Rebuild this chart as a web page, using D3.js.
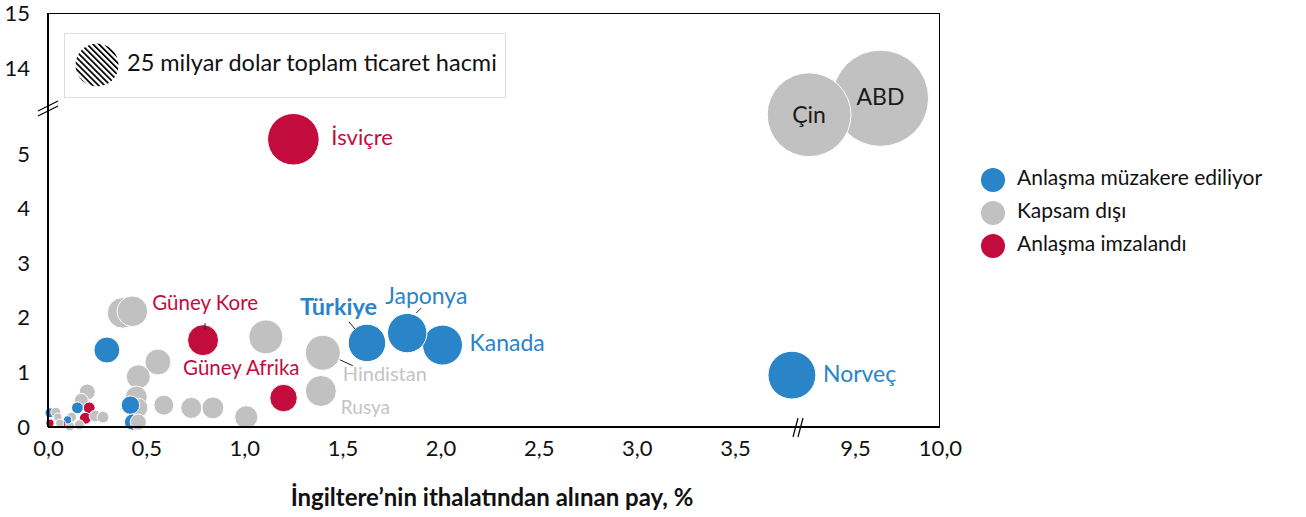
<!DOCTYPE html>
<html>
<head lang="tr">
    <meta charset="UTF-8">
    <script type="text/javascript" src="https://d3js.org/d3.v7.min.js"></script>
    <style>
        body { margin: 0; background: #fff; }
        svg text { font-family: "Lato", "Open Sans", sans-serif; }
    </style>
</head>
<body>
    <svg id="chart" width="1306" height="517"></svg>
    <script>

        // country data: share of UK imports (%), y value, total trade volume (bn $), status
        var names   = ["ABD", "Çin", "İsviçre", "Norveç", "Kanada", "Japonya", "Türkiye", "Hindistan", "Rusya", "Güney Afrika", "Güney Kore",
                       "", "", "", "", "", "", "", "", "", "", "", "", "", "", "",
                       "", "", "", "", "", "", "", "", "", "", "", "", "", "", "", "", ""];
        var xShare  = [9.65, 9.23, 1.25, 3.79, 2.01, 1.83, 1.625, 1.40, 1.39, 1.20, 0.79,
                       1.11, 0.38, 0.43, 0.30, 0.56, 0.46, 0.45, 0.42, 0.46, 0.43, 0.46, 0.59, 0.73, 0.84, 1.01,
                       0.20, 0.17, 0.15, 0.21, 0.19, 0.24, 0.28, 0.16, 0.11, 0.12, 0.10, 0.07, 0.01, 0.04, 0.05, 0.01, 0.06];
        var yValue  = [13.45, 13.15, 5.27, 0.95, 1.50, 1.72, 1.54, 1.36, 0.66, 0.53, 1.59,
                       1.65, 2.09, 2.12, 1.41, 1.19, 0.92, 0.55, 0.40, 0.35, 0.09, 0.09, 0.40, 0.35, 0.35, 0.18,
                       0.64, 0.49, 0.35, 0.35, 0.16, 0.20, 0.18, 0.04, 0.02, 0.18, 0.13, 0.05, 0.26, 0.27, 0.18, 0.07, 0.07];
        var volume  = [125, 95, 36, 31, 21.6, 21, 19, 16.6, 13, 10.2, 13,
                       15.6, 12.7, 12.7, 9.1, 9.1, 7.8, 6.5, 4.6, 5, 3.5, 3.5, 5.4, 6, 6.5, 7.2,
                       3.5, 2.6, 1.9, 1.9, 1.9, 1.9, 1.9, 1.35, 1.35, 1.35, 0.9, 0.9, 1.35, 1.35, 0.9, 0.9, 0.9];
        var statusCodes = ["k", "k", "i", "m", "m", "m", "m", "k", "k", "i", "i",
                       "k", "k", "k", "m", "k", "k", "k", "m", "k", "m", "k", "k", "k", "k", "k",
                       "k", "k", "m", "i", "i", "k", "k", "k", "k", "k", "m", "i", "m", "k", "k", "i", "k"];

        var statusKeys   = ["m", "k", "i"];
        var statusLabels = ["Anlaşma müzakere ediliyor", "Kapsam dışı", "Anlaşma imzalandı"];
        var statusColors = {m: "#2a84c8", k: "#c1c1c1", i: "#c20c3d"};

        var xTicksLow  = [0, 0.5, 1, 1.5, 2, 2.5, 3, 3.5];
        var xTicksHigh = [9.5, 10];
        var yTicksLow  = [0, 1, 2, 3, 4, 5];
        var yTicksHigh = [14, 15];
        var legendVolume = 25;

        var plotLeft = 48, plotRight = 940, plotTop = 13, plotBottom = 427;
        var xBreak = 800, yBreak = 105;

        // broken scales
        var xLow  = d3.scaleLinear().domain([0, 3.5]).range([plotLeft, 735]);
        var xHigh = d3.scaleLinear().domain([9.5, 10]).range([855, plotRight]);
        var yLow  = d3.scaleLinear().domain([0, 5]).range([plotBottom, 154]);
        var yHigh = d3.scaleLinear().domain([14, 15]).range([68, plotTop]);
        function xPos(v){ return v > 6 ? xHigh(v) : xLow(v); }
        function yPos(v){ return v > 9 ? yHigh(v) : yLow(v); }
        var rScale = d3.scaleSqrt().domain([0, 25]).range([0, 21.5]);

        var tr = d3.formatLocale({decimal: ",", thousands: ".", grouping: [3], currency: ["", ""]});
        var fmt1 = tr.format(".1f");
        var fmt0 = tr.format("d");

        var svg = d3.select("#chart");

        // frame
        svg.append("line").attr("x1", plotLeft).attr("x2", plotRight).attr("y1", plotTop + 0.5).attr("y2", plotTop + 0.5)
            .attr("stroke", "#000").attr("stroke-width", 1);
        svg.append("line").attr("x1", plotRight - 0.5).attr("x2", plotRight - 0.5).attr("y1", plotTop).attr("y2", plotBottom)
            .attr("stroke", "#000").attr("stroke-width", 1);

        // axis labels
        svg.append("g").attr("transform", "translate(0," + plotBottom + ")")
            .call(d3.axisBottom(xLow).tickValues(xTicksLow).tickFormat(fmt1).tickSize(0).tickPadding(13));
        svg.append("g").attr("transform", "translate(0," + plotBottom + ")")
            .call(d3.axisBottom(xHigh).tickValues(xTicksHigh).tickFormat(fmt1).tickSize(0).tickPadding(13));
        svg.append("g").attr("transform", "translate(" + plotLeft + ",0)")
            .call(d3.axisLeft(yLow).tickValues(yTicksLow).tickFormat(fmt0).tickSize(0).tickPadding(18));
        svg.append("g").attr("transform", "translate(" + plotLeft + ",0)")
            .call(d3.axisLeft(yHigh).tickValues(yTicksHigh).tickFormat(fmt0).tickSize(0).tickPadding(18));
        svg.selectAll(".domain").remove();
        svg.selectAll(".tick text").attr("font-size", 22).attr("fill", "#111")
            .style("font-family", "Lato, 'Open Sans', sans-serif");

        // bubbles, biggest first
        var rows = names.map(function(n, i){
            return {name: n, x: xShare[i], y: yValue[i], v: volume[i], s: statusCodes[i]};
        });
        rows.sort(function(a, b){ return b.v - a.v; });

        svg.append("g").selectAll("circle")
            .data(rows)
            .enter()
            .append("circle")
                .attr("cx", function(d){ return xPos(d.x); })
                .attr("cy", function(d){ return yPos(d.y); })
                .attr("r", function(d){ return rScale(d.v); })
                .attr("fill", function(d){ return statusColors[d.s]; })
                .attr("stroke", "#fff")
                .attr("stroke-width", 1);

        // axes lines with breaks
        svg.append("line").attr("x1", plotLeft).attr("x2", plotLeft).attr("y1", plotTop).attr("y2", plotBottom)
            .attr("stroke", "#000").attr("stroke-width", 2);
        svg.append("line").attr("x1", plotLeft).attr("x2", plotRight).attr("y1", plotBottom).attr("y2", plotBottom)
            .attr("stroke", "#000").attr("stroke-width", 2);
        [0, 5].forEach(function(o){
            svg.append("line").attr("x1", 38).attr("y1", yBreak + 6 + o).attr("x2", 58).attr("y2", yBreak + 1 + o - 5)
                .attr("stroke", "#000").attr("stroke-width", 1.2);
            svg.append("line").attr("x1", xBreak - 7 + o).attr("y1", plotBottom + 10).attr("x2", xBreak - 2 + o).attr("y2", plotBottom - 9)
                .attr("stroke", "#000").attr("stroke-width", 1.2);
        });

        // country labels
        function label(name, dx, dy, color, opts){
            var i = names.indexOf(name);
            var t = svg.append("text")
                .attr("x", xPos(xShare[i]) + dx)
                .attr("y", yPos(yValue[i]) + dy)
                .attr("fill", color)
                .attr("font-size", (opts && opts.size) || 23)
                .attr("dominant-baseline", "middle")
                .attr("text-anchor", (opts && opts.anchor) || "start")
                .text(name);
            if (opts && opts.bold) t.attr("font-weight", "bold");
            if (opts && opts.line) {
                svg.append("line")
                    .attr("x1", xPos(xShare[i]) + opts.line[0]).attr("y1", yPos(yValue[i]) + opts.line[1])
                    .attr("x2", xPos(xShare[i]) + opts.line[2]).attr("y2", yPos(yValue[i]) + opts.line[3])
                    .attr("stroke", "#222").attr("stroke-width", 1);
            }
        }
        label("ABD", 0, 1, "#1a1a1a", {anchor: "middle", size: 23});
        label("Çin", 0, 2, "#1a1a1a", {anchor: "middle", size: 23});
        label("İsviçre", 38, 0, "#c20c3d", {size: 22});
        label("Norveç", 31, 1, "#2a84c8");
        label("Kanada", 27, 0, "#2a84c8");
        label("Japonya", -22, -35, "#2a84c8", {line: [9, -20, 14, -25]});
        label("Türkiye", -67, -34, "#2a84c8", {bold: true, size: 23.5, line: [-18, -21, -12, -14]});
        label("Hindistan", 20, 23, "#c4c4c4", {size: 20, line: [17, 7, 30, 13]});
        label("Rusya", 20, 18, "#c4c4c4", {size: 19});
        label("Güney Afrika", 16, -28, "#c20c3d", {size: 20.5, anchor: "end"});
        label("Güney Kore", 55, -35, "#c20c3d", {size: 20.5, anchor: "end", line: [2, -17, 2, -10]});

        // size legend
        svg.append("rect").attr("x", 64.5).attr("y", 33.5).attr("width", 441).attr("height", 64)
            .attr("fill", "#fff").attr("stroke", "#dedede").attr("stroke-width", 1);
        var defs = svg.append("defs");
        var pat = defs.append("pattern").attr("id", "hatch").attr("patternUnits", "userSpaceOnUse")
            .attr("width", 4.2).attr("height", 4.2).attr("patternTransform", "rotate(-45)");
        pat.append("rect").attr("width", 4.2).attr("height", 4.2).attr("fill", "#fff");
        pat.append("rect").attr("width", 1.8).attr("height", 4.2).attr("fill", "#000");
        svg.append("circle").attr("cx", 97).attr("cy", 65).attr("r", rScale(legendVolume)).attr("fill", "url(#hatch)");
        svg.append("text").attr("x", 127).attr("y", 65).attr("dominant-baseline", "middle")
            .attr("font-size", 23.5).attr("fill", "#111").text(legendVolume + " milyar dolar toplam ticaret hacmi");

        // status legend
        var lg = svg.append("g").attr("transform", "translate(993,180)");
        statusKeys.forEach(function(k, i){
            lg.append("circle").attr("cx", 0).attr("cy", i * 33).attr("r", 12).attr("fill", statusColors[k]);
            lg.append("text").attr("x", 24).attr("y", i * 33).attr("dominant-baseline", "middle")
                .attr("font-size", 21).attr("fill", "#111").text(statusLabels[i]);
        });

        // axis title
        svg.append("text").attr("x", 492).attr("y", 500).attr("text-anchor", "middle")
            .attr("dominant-baseline", "middle").attr("font-size", 24).attr("font-weight", "bold")
            .attr("fill", "#111").text("İngiltere’nin ithalatından alınan pay, %");
    </script>
</body>
</html>
